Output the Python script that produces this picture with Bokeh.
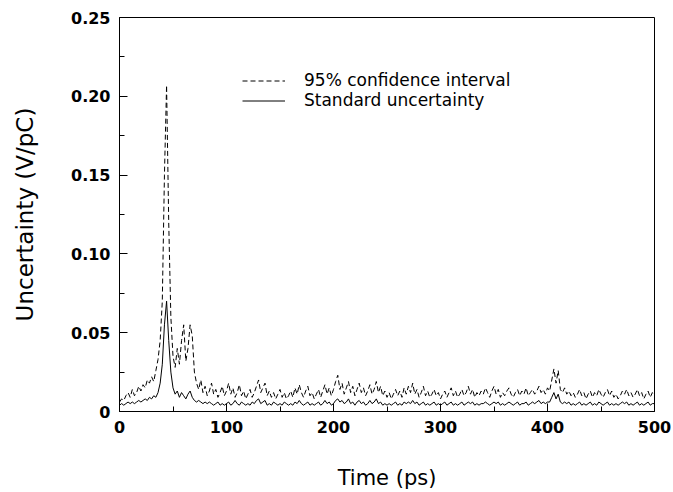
from bokeh.plotting import figure
from bokeh.models import Range1d, Legend, LegendItem, FixedTicker
from bokeh.embed import file_html
from bokeh.resources import INLINE

# Time axis (ps), sampled every 2 ps
time_ps = list(range(0, 501, 2))

ci95 = [
    0.006, 0.008, 0.007, 0.010, 0.012, 0.009, 0.014, 0.010, 0.012, 0.016,
    0.013, 0.017, 0.015, 0.020, 0.018, 0.022, 0.019, 0.026, 0.033, 0.045,
    0.070, 0.150, 0.207, 0.120, 0.060, 0.035, 0.028, 0.040, 0.030, 0.045,
    0.055, 0.032, 0.040, 0.055, 0.048, 0.025, 0.018, 0.014, 0.020, 0.012,
    0.016, 0.010, 0.013, 0.018, 0.011, 0.014, 0.009, 0.012, 0.016, 0.010,
    0.013, 0.018, 0.011, 0.015, 0.009, 0.012, 0.017, 0.010, 0.013, 0.008,
    0.011, 0.014, 0.009, 0.012, 0.016, 0.020, 0.012, 0.015, 0.018, 0.010,
    0.013, 0.009, 0.012, 0.008, 0.011, 0.014, 0.009, 0.012, 0.008, 0.010,
    0.013, 0.009, 0.015, 0.011, 0.017, 0.012, 0.009, 0.013, 0.016, 0.010,
    0.012, 0.008, 0.011, 0.014, 0.009, 0.013, 0.017, 0.011, 0.015, 0.010,
    0.014, 0.019, 0.023, 0.014, 0.018, 0.011, 0.015, 0.019, 0.012, 0.016,
    0.010, 0.014, 0.018, 0.012, 0.015, 0.010, 0.013, 0.017, 0.011, 0.014,
    0.019, 0.012, 0.016, 0.010, 0.013, 0.009, 0.012, 0.008, 0.011, 0.014,
    0.010, 0.013, 0.009, 0.015, 0.011, 0.016, 0.012, 0.018, 0.011, 0.014,
    0.009, 0.012, 0.016, 0.010, 0.013, 0.009, 0.011, 0.014, 0.010, 0.012,
    0.008, 0.011, 0.013, 0.009, 0.012, 0.015, 0.010, 0.013, 0.009, 0.011,
    0.014, 0.010, 0.012, 0.016, 0.011, 0.014, 0.009, 0.012, 0.010, 0.013,
    0.011, 0.015, 0.012, 0.009, 0.013, 0.016, 0.011, 0.014, 0.009, 0.012,
    0.010, 0.013, 0.015, 0.011, 0.009, 0.012, 0.014, 0.010, 0.013, 0.011,
    0.015, 0.010, 0.012, 0.014, 0.011, 0.013, 0.016, 0.012, 0.014, 0.011,
    0.015, 0.013, 0.020, 0.027, 0.018, 0.026, 0.014, 0.012, 0.015, 0.011,
    0.013, 0.010, 0.012, 0.009, 0.011, 0.014, 0.010, 0.012, 0.008, 0.011,
    0.013, 0.009, 0.012, 0.010, 0.014, 0.011, 0.009, 0.012, 0.014, 0.010,
    0.013, 0.009, 0.011, 0.008, 0.010, 0.013, 0.011, 0.014, 0.010, 0.012,
    0.009, 0.011, 0.014, 0.010, 0.012, 0.008, 0.011, 0.013, 0.009, 0.012,
    0.010,
]

std_unc = [
    0.004, 0.005, 0.004, 0.005, 0.006, 0.005, 0.006, 0.005, 0.006, 0.007,
    0.006, 0.007, 0.008, 0.007, 0.009, 0.008, 0.010, 0.009, 0.012, 0.018,
    0.030, 0.055, 0.070, 0.045, 0.025, 0.015, 0.011, 0.013, 0.009, 0.012,
    0.010, 0.008, 0.011, 0.013, 0.009, 0.007, 0.006, 0.007, 0.006, 0.005,
    0.006, 0.005, 0.006, 0.005, 0.004, 0.005, 0.006, 0.004, 0.005, 0.004,
    0.005, 0.006, 0.004, 0.005, 0.007, 0.005, 0.004, 0.006, 0.005, 0.004,
    0.005, 0.004, 0.006, 0.005, 0.007, 0.008, 0.005, 0.006, 0.007, 0.004,
    0.005, 0.004, 0.006, 0.005, 0.004, 0.005, 0.004, 0.006, 0.005, 0.004,
    0.005, 0.004, 0.006, 0.005, 0.007, 0.005, 0.004, 0.005, 0.006, 0.004,
    0.005, 0.004, 0.005, 0.006, 0.004, 0.005, 0.007, 0.005, 0.006, 0.004,
    0.005, 0.007, 0.008, 0.006, 0.007, 0.005, 0.006, 0.008, 0.005, 0.006,
    0.004, 0.006, 0.007, 0.005, 0.006, 0.004, 0.005, 0.007, 0.005, 0.006,
    0.008, 0.005, 0.006, 0.004, 0.005, 0.004, 0.005, 0.004, 0.005, 0.006,
    0.004, 0.005, 0.004, 0.006, 0.005, 0.006, 0.005, 0.007, 0.005, 0.006,
    0.004, 0.005, 0.006, 0.004, 0.005, 0.004, 0.005, 0.006, 0.004, 0.005,
    0.004, 0.005, 0.006, 0.004, 0.005, 0.006, 0.004, 0.005, 0.004, 0.005,
    0.006, 0.004, 0.005, 0.006, 0.005, 0.006, 0.004, 0.005, 0.004, 0.005,
    0.005, 0.006, 0.005, 0.004, 0.005, 0.006, 0.005, 0.006, 0.004, 0.005,
    0.004, 0.005, 0.006, 0.005, 0.004, 0.005, 0.006, 0.004, 0.005, 0.005,
    0.006, 0.004, 0.005, 0.006, 0.005, 0.006, 0.007, 0.005, 0.006, 0.005,
    0.006, 0.006, 0.009, 0.012, 0.008, 0.011, 0.006, 0.005, 0.006, 0.005,
    0.006, 0.004, 0.005, 0.004, 0.005, 0.006, 0.004, 0.005, 0.004, 0.005,
    0.006, 0.004, 0.005, 0.004, 0.006, 0.005, 0.004, 0.005, 0.006, 0.004,
    0.005, 0.004, 0.005, 0.004, 0.005, 0.006, 0.005, 0.006, 0.004, 0.005,
    0.004, 0.005, 0.006, 0.004, 0.005, 0.004, 0.005, 0.006, 0.004, 0.005,
    0.005,
]

x_ticks = [0, 100, 200, 300, 400, 500]
x_minor = [50, 150, 250, 350, 450]
y_ticks = [0, 0.05, 0.1, 0.15, 0.2, 0.25]
y_tick_labels = ["0", "0.05", "0.10", "0.15", "0.20", "0.25"]
y_minor = [0.025, 0.075, 0.125, 0.175, 0.225]

legend_labels = ["95% confidence interval", "Standard uncertainty"]

FONT = "DejaVu Sans"

p = figure(width=673, height=492, output_backend="svg", toolbar_location=None,
           x_range=Range1d(0, 500), y_range=Range1d(0, 0.25),
           min_border_left=119, min_border_top=17, min_border_right=19,
           min_border_bottom=81)

p.xgrid.visible = False
p.ygrid.visible = False
p.outline_line_color = "black"
p.outline_line_width = 1
p.outline_line_alpha = 1
p.background_fill_color = "white"
p.border_fill_color = "white"

r_ci = p.line(time_ps, ci95, line_color="black", line_width=1, line_dash="5 3")
r_std = p.line(time_ps, std_unc, line_color="black", line_width=1)

p.xaxis.ticker = FixedTicker(ticks=x_ticks, minor_ticks=x_minor)
p.yaxis.ticker = FixedTicker(ticks=y_ticks, minor_ticks=y_minor)
p.yaxis.major_label_overrides = {t: s for t, s in zip(y_ticks, y_tick_labels)}

for ax in (p.xaxis[0], p.yaxis[0]):
    ax.axis_line_color = "black"
    ax.major_tick_line_color = "black"
    ax.minor_tick_line_color = "black"
    ax.major_tick_in = 8
    ax.major_tick_out = 0
    ax.minor_tick_in = 5
    ax.minor_tick_out = 0
    ax.major_label_text_font = FONT
    ax.major_label_text_font_style = "bold"
    ax.major_label_text_font_size = "16px"
    ax.major_label_text_color = "black"
    ax.axis_label_text_font = FONT
    ax.axis_label_text_font_style = "normal"
    ax.axis_label_text_color = "black"

p.xaxis.axis_label_text_font_size = "21px"
p.yaxis.axis_label_text_font_size = "23px"
p.xaxis.axis_label = "Time (ps)"
p.yaxis.axis_label = "Uncertainty (V/pC)"
p.xaxis.major_label_standoff = 9
p.yaxis.major_label_standoff = 9
p.xaxis.axis_label_standoff = 30
p.yaxis.axis_label_standoff = 30

legend = Legend(
    items=[LegendItem(label=legend_labels[0], renderers=[r_ci]),
           LegendItem(label=legend_labels[1], renderers=[r_std])],
    location=(123, 301),
    border_line_alpha=0, background_fill_alpha=0,
    padding=0, margin=0, spacing=0,
    glyph_width=43, glyph_height=19, label_height=19, label_standoff=19,
    label_text_font=FONT, label_text_font_size="17px", label_text_color="black",
)
p.add_layout(legend)

open("out.html", "w").write(file_html(p, INLINE))
